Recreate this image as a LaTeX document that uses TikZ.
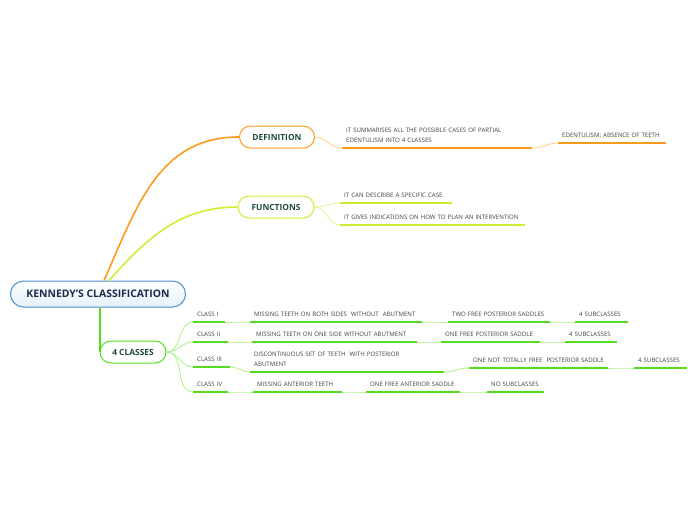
\documentclass[tikz,border=0pt]{standalone}
\usepackage{fontspec}
\setmainfont{Open Sans}
\usetikzlibrary{positioning}

\definecolor{rootline}{HTML}{4A90D0}
\definecolor{rootfill}{HTML}{E6F0FA}
\definecolor{roottext}{HTML}{1B2A4E}
\definecolor{boxtext}{HTML}{1E4D3C}
\definecolor{orn}{HTML}{FF9A1A}
\definecolor{ornlight}{HTML}{FFD08A}
\definecolor{ylw}{HTML}{CCEE33}
\definecolor{ylwlight}{HTML}{E2F58E}
\definecolor{grn}{HTML}{55DD22}
\definecolor{grnlight}{HTML}{AEF088}

\newcommand{\leaffont}{\fontsize{6.1}{10}\selectfont}

\begin{document}
\begin{tikzpicture}[x=1pt, y=1pt,
  root/.style={draw=rootline, line width=1pt, rounded corners=13pt, top color=white, bottom color=rootfill, minimum width=175pt, minimum height=26pt, text=roottext, font=\fontsize{10.4}{12}\selectfont\bfseries},
  topic/.style={draw=#1, line width=1pt, fill=white, rounded corners=11pt, minimum height=22pt, text=boxtext, font=\fontsize{8.4}{10}\selectfont\bfseries},
  leaf/.style={anchor=south west, inner xsep=4pt, inner ysep=5pt, text width=#1, align=left, font=\leaffont, text=black!75},
  ul/.style={draw=#1, line width=1.5pt},
  link/.style={draw=#1, line width=0.8pt}]
\useasboundingbox (0,0) rectangle (696,-520);

% main topics
\node[root] (root) at (98,-294) {KENNEDY'S CLASSIFICATION};
\node[topic=orn, minimum width=75pt] (def) at (277,-137) {DEFINITION};
\node[topic=ylw, minimum width=76pt] (fun) at (276,-207) {FUNCTIONS};
\node[topic=grn, minimum width=66pt] (cls) at (133,-352) {4 CLASSES};

\draw[draw=orn, line width=1.6pt] ([xshift=6pt]root.north) to[out=66, in=180, looseness=1.05] (def.west);
\draw[draw=ylw, line width=1.6pt] ([xshift=11pt]root.north) to[out=48, in=180] (fun.west);
\draw[draw=grn, line width=1.6pt] ([xshift=0.5pt]root.south -| cls.west) -- ([xshift=0.5pt]cls.west);

% definition
\node[leaf=182pt, append after command={(\tikzlastnode.south west) edge[ul=orn] (\tikzlastnode.south east)}] (d1) at (342,-148) {IT SUMMARISES ALL THE POSSIBLE CASES OF PARTIAL\\EDENTULISM INTO 4 CLASSES};
\node[leaf=100pt, append after command={(\tikzlastnode.south west) edge[ul=orn] (\tikzlastnode.south east)}] (d2) at (558,-143) {EDENTULISM: ABSENCE OF TEETH};
\draw[link=ornlight] (def.east) to[out=0, in=180] (d1.south west);
\draw[link=ornlight] (d1.south east) to[out=0, in=180] (d2.south west);

% functions
\node[leaf=104pt, append after command={(\tikzlastnode.south west) edge[ul=ylw] (\tikzlastnode.south east)}] (f1) at (340,-203) {IT CAN DESCRIBE A SPECIFIC CASE};
\node[leaf=177pt, append after command={(\tikzlastnode.south west) edge[ul=ylw] (\tikzlastnode.south east)}] (f2) at (340,-225) {IT GIVES INDICATIONS ON HOW TO PLAN AN INTERVENTION};
\draw[link=ylwlight] (fun.east) to[out=0, in=180] (f1.south west);
\draw[link=ylwlight] (fun.east) to[out=0, in=180] (f2.south west);

% classes
\tikzset{gleaf/.style={leaf=#1, append after command={(\tikzlastnode.south west) edge[ul=grn] (\tikzlastnode.south east)}}}
\node[gleaf=24pt] (c1) at (193,-322) {CLASS I};
\node[gleaf=164pt] (m1) at (250,-322) {MISSING TEETH ON BOTH SIDES\ \ WITHOUT\ \ ABUTMENT};
\node[gleaf=94pt] (t1) at (448,-322) {TWO FREE POSTERIOR SADDLES};
\node[gleaf=45pt] (s1) at (575,-322) {4 SUBCLASSES};

\node[gleaf=27pt] (c2) at (193,-342) {CLASS II};
\node[gleaf=157pt] (m2) at (252,-342) {MISSING TEETH ON ONE SIDE WITHOUT ABUTMENT};
\node[gleaf=91pt] (t2) at (441,-342) {ONE FREE POSTERIOR SADDLE};
\node[gleaf=44pt] (s2) at (565,-342) {4 SUBCLASSES};

\node[gleaf=29pt] (c3) at (193,-367) {CLASS III};
\node[gleaf=186pt] (m3) at (250,-372) {DISCONTINUOUS SET OF TEETH\ \ WITH POSTERIOR\\ABUTMENT};
\node[gleaf=131pt] (t3) at (469,-368) {ONE NOT TOTALLY FREE\ \ POSTERIOR SADDLE};
\node[gleaf=45pt] (s3) at (634,-368) {4 SUBCLASSES};

\node[gleaf=27pt] (c4) at (193,-392) {CLASS IV};
\node[gleaf=81pt] (m4) at (253,-392) {MISSING ANTERIOR TEETH};
\node[gleaf=86pt] (t4) at (366,-392) {ONE FREE ANTERIOR SADDLE};
\node[gleaf=49pt] (s4) at (487,-392) {NO SUBCLASSES};

\foreach \c in {c1,c2,c3,c4}
  \draw[link=grnlight] (cls.east) to[out=0, in=180] (\c.south west);
\foreach \a/\b in {c1/m1, m1/t1, t1/s1, c2/m2, m2/t2, t2/s2, c3/m3, m3/t3, t3/s3, c4/m4, m4/t4, t4/s4}
  \draw[link=grnlight] (\a.south east) to[out=0, in=180] (\b.south west);
\end{tikzpicture}
\end{document}
